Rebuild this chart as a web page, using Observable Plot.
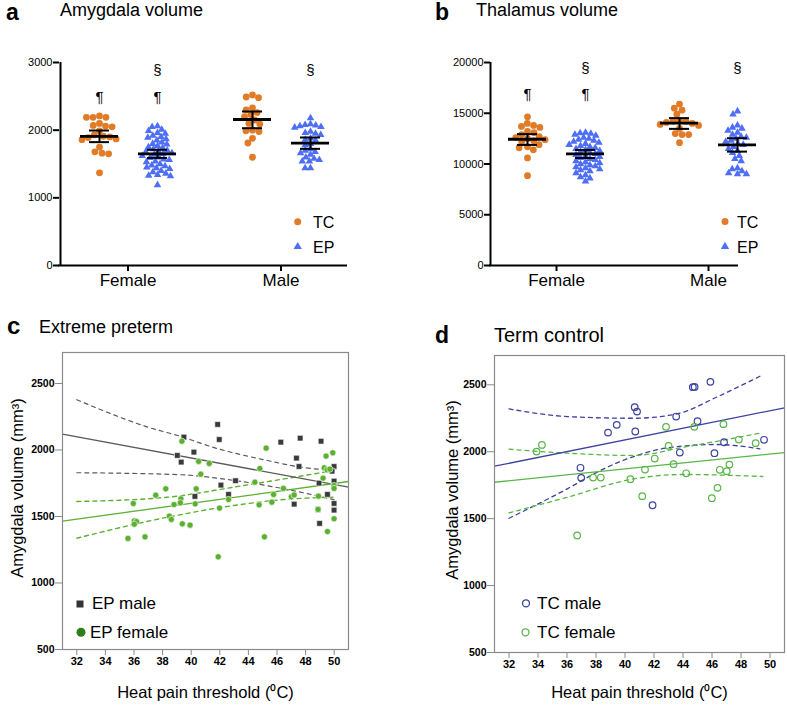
<!DOCTYPE html>
<html>
<head>
<meta charset="utf-8">
<script src="https://cdn.jsdelivr.net/npm/d3@7"></script>
<script src="https://cdn.jsdelivr.net/npm/@observablehq/plot@0.6"></script>
<style>
html,body{margin:0;padding:0;background:#fff;overflow:hidden;}
#root{position:relative;width:787px;height:705px;overflow:hidden;font-family:"Liberation Sans",Arial,sans-serif;}
#root .panel{position:absolute;}
#root svg{display:block;}
#overlay{position:absolute;left:0;top:0;pointer-events:none;}
</style>
</head>
<body>
<div id="root"></div>
<script>
// ================= DATA =================
const sexes = ["Female", "Male"];
const groups = ["TC", "EP"];

// Panel a: amygdala volume (mm3)
const amyFemaleTC = [2210, 2190, 2190, 2190, 2100, 2070, 2060, 2050, 1990, 1930, 1910, 1900, 1890, 1870, 1860, 1750, 1680, 1660, 1650, 1370];
const amyFemaleEP = [2060, 2050, 2010, 1990, 1960, 1950, 1920, 1900, 1890, 1870, 1850, 1820, 1800, 1790, 1770, 1750, 1740, 1720, 1700, 1690, 1680, 1660, 1650, 1640, 1620, 1600, 1590, 1570, 1560, 1540, 1530, 1500, 1480, 1470, 1450, 1440, 1430, 1400, 1380, 1360, 1340, 1330, 1320, 1190];
const amyMaleTC = [2520, 2490, 2480, 2330, 2300, 2260, 2230, 2200, 2150, 2100, 2090, 2000, 1990, 1980, 1880, 1810, 1600];
const amyMaleEP = [2180, 2090, 2080, 2070, 2060, 2050, 2040, 1980, 1960, 1950, 1930, 1880, 1860, 1850, 1800, 1780, 1720, 1700, 1680, 1660, 1640, 1600, 1580, 1560, 1540, 1540, 1440, 1440];
// mean and 95% CI, order: Female TC, Female EP, Male TC, Male EP
const amyMean = [1907, 1651, 2158, 1808];
const amyLo = [1823, 1590, 2029, 1724];
const amyHi = [1995, 1710, 2276, 1892];
const amyTicks = [0, 1000, 2000, 3000];

// Panel b: thalamus volume (mm3)
const thalFemaleTC = [14650, 14000, 13800, 13700, 13600, 13200, 13100, 12900, 12700, 12600, 12500, 12400, 12300, 12200, 11900, 11700, 11600, 11400, 10600, 8850];
const thalFemaleEP = [13100, 13050, 13000, 12900, 12800, 12600, 12500, 12400, 12300, 12200, 12100, 12000, 11900, 11800, 11700, 11600, 11500, 11400, 11300, 11200, 11100, 11000, 10900, 10800, 10700, 10600, 10500, 10400, 10300, 10200, 10100, 10000, 9900, 9800, 9700, 9600, 9500, 9400, 9300, 9100, 8900, 8700, 8600, 8300];
const thalMaleTC = [15900, 15500, 15300, 14900, 14300, 14200, 14200, 14100, 14000, 13900, 13800, 13500, 13000, 12900, 12900, 12100];
const thalMaleEP = [15200, 14900, 13800, 13600, 13500, 13300, 13100, 12900, 12700, 12600, 12500, 12300, 12200, 12000, 11900, 11700, 11500, 11300, 11100, 10800, 10500, 10300, 9600, 9500, 9300, 9100, 9000, 9000];
const thalMean = [12440, 10990, 14030, 11880];
const thalLo = [11880, 10590, 13460, 11220];
const thalHi = [12940, 11385, 14520, 12540];
const thalTicks = [0, 5000, 10000, 15000, 20000];

// significance symbols
const sigSex = ["Female", "Female", "Female", "Male"];
const sigGroup = ["TC", "EP", "EP", "EP"];
const sigSym = ["¶", "¶", "§", "§"];
const amySigY = [2490, 2490, 2880, 2880];
const thalSigY = [16830, 16830, 19470, 19470];

// Panel c: extreme preterm, heat pain threshold vs amygdala volume
const epMaleX = [41.85, 39.49, 41.96, 39.03, 40.19, 39.3, 46.27, 47.62, 49.08, 47.36, 47.54, 49.99, 49.85, 43.1, 42.08, 48.94, 49.99, 49.99, 49.53, 42.61, 40.26, 47.2, 49.99, 49.99, 48.87, 48.98];
const epMaleY = [2192, 2097, 2079, 1959, 1984, 1909, 2059, 2089, 2066, 1939, 1876, 1876, 1841, 1769, 1736, 1751, 1766, 1726, 1666, 1666, 1651, 1593, 1598, 1548, 1553, 1448];
const epFemaleX = [39.35, 45.24, 40.52, 41.26, 40.67, 44.8, 44.45, 46.45, 45.76, 45.64, 44.75, 47.0, 47.2, 48.9, 49.22, 49.43, 49.9, 49.3, 49.5, 49.7, 49.99, 49.99, 48.87, 49.99, 49.53, 45.12, 41.89, 38.22, 37.52, 40.35, 39.28, 39.24, 38.8, 40.28, 35.95, 41.98, 42.61, 38.47, 38.61, 36.02, 36.18, 36.02, 39.38, 39.92, 36.77, 35.58];
const epFemaleY = [2066, 2014, 1914, 1899, 1818, 1861, 1758, 1711, 1666, 1608, 1588, 1648, 1662, 1653, 1788, 1954, 1979, 1866, 1851, 1856, 1733, 1711, 1553, 1483, 1387, 1347, 1197, 1708, 1660, 1708, 1633, 1603, 1590, 1595, 1598, 1563, 1628, 1503, 1478, 1467, 1462, 1442, 1445, 1435, 1347, 1335];
const epMaleFitX = [31, 51], epMaleFitY = [2120, 1720];
const epMaleUpX = [32, 34.4, 36.96, 39.05, 41.85, 45.33, 47.66, 50], epMaleUpY = [2378, 2272, 2172, 2109, 2010, 1921, 1871, 1846];
const epMaleLoX = [32, 39.05, 43.0, 46.5, 50], epMaleLoY = [1829, 1815, 1771, 1708, 1626];
const epFemaleFitX = [31, 51], epFemaleFitY = [1465, 1763];
const epFemaleUpX = [32, 38.35, 43.0, 46.5, 50], epFemaleUpY = [1613, 1645, 1721, 1783, 1846];
const epFemaleLoX = [32, 38.35, 43.0, 46.5, 50], epFemaleLoY = [1337, 1495, 1583, 1628, 1645];

// Panel d: term control
const tcMaleX = [45.89, 44.68, 44.8, 40.67, 40.83, 43.53, 39.43, 38.83, 40.71, 45.0, 46.83, 49.59, 43.78, 46.17, 36.93, 36.98, 41.9];
const tcMaleY = [2522, 2482, 2484, 2333, 2300, 2263, 2201, 2143, 2151, 2228, 2071, 2089, 1994, 1989, 1880, 1805, 1600];
const tcFemaleX = [34.27, 33.9, 42.83, 44.78, 46.79, 43.01, 47.85, 49.01, 42.05, 43.35, 41.38, 37.8, 38.33, 40.37, 44.22, 46.54, 47.02, 47.2, 41.19, 46.38, 45.99, 36.7];
const tcFemaleY = [2051, 2001, 2186, 2186, 2206, 2044, 2091, 2064, 1949, 1907, 1867, 1807, 1807, 1795, 1839, 1865, 1855, 1904, 1668, 1730, 1653, 1374];
const tcMaleFitX = [31, 51], tcMaleFitY = [1892, 2328];
const tcMaleUpX = [32, 36.02, 40.6, 43.6, 46.3, 49.4], tcMaleUpY = [2320, 2263, 2250, 2283, 2407, 2569];
const tcMaleLoX = [32, 36.02, 38.3, 40.6, 42.9, 46.3, 49.3], tcMaleLoY = [1503, 1723, 1860, 1964, 2029, 2054, 2022];
const tcFemaleFitX = [31, 51], tcFemaleFitY = [1772, 1994];
const tcFemaleUpX = [32, 36.02, 40.6, 44.05, 49.3], tcFemaleUpY = [2019, 1989, 1972, 2034, 2138];
const tcFemaleLoX = [32, 36.02, 40.6, 44.05, 49.5], tcFemaleLoY = [1543, 1660, 1797, 1830, 1815];

const heatTicks = [32, 34, 36, 38, 40, 42, 44, 46, 48, 50];
const heatDomain = [31, 51];
const volTicks = [500, 1000, 1500, 2000, 2500];

// ================= STYLE =================
const FONT = "'Liberation Sans', Arial, Helvetica, sans-serif";
const ORANGE = "#e07b28", BLUE = "#4d6ef5";
const EP_GRAY = "#3a3a3a", EP_LINE = "#5a5a5a", EP_GREEN = "#5bb031", EP_GREEN_DARK = "#2f7d1d";
const TC_BLUE = "#3d42a0", TC_GREEN = "#5ab548";
const FRAME_GRAY = "#8a8a8a";

// ================= HELPERS =================
const root = document.getElementById("root");
function put(el, left, top) {
  const d = document.createElement("div");
  d.className = "panel";
  d.style.left = left + "px";
  d.style.top = top + "px";
  d.appendChild(el);
  root.appendChild(d);
}
const summaryKeys = [["Female", "TC"], ["Female", "EP"], ["Male", "TC"], ["Male", "EP"]];
function rowsFrom(sets) {
  return sets.flatMap(([sex, group, vals]) => vals.map(v => ({sex, group, v})));
}
function summary(mean, lo, hi) {
  return summaryKeys.map(([sex, group], i) => ({sex, group, mean: mean[i], lo: lo[i], hi: hi[i]}));
}
function sigs(ys) {
  return sigSym.map((s, i) => ({sex: sigSex[i], group: sigGroup[i], sym: s, v: ys[i]}));
}
const pts = (xs, ys) => xs.map((x, i) => ({x, y: ys[i]}));

// Beeswarm layout as a Plot initializer: points of each (facet, group) are
// spread horizontally around the centre of their x band so they do not collide.
function swarm(diam, options) {
  return {
    ...options,
    initializer: (data, facets, channels, scales) => {
      const X = channels.x.value, Y = channels.y.value;
      const n = X.length;
      const PX = new Float64Array(n), PY = new Float64Array(n), OFF = new Float64Array(n);
      for (let i = 0; i < n; i++) { PX[i] = scales.x(X[i]); PY[i] = scales.y(Y[i]); }
      for (const facet of facets) {
        for (const idx of d3.group(facet, i => X[i]).values()) {
          const order = Array.from(idx).sort((a, b) => PY[a] - PY[b]);
          const placed = [];
          for (const i of order) {
            const near = placed.filter(j => Math.abs(PY[i] - PY[j]) < diam);
            const cands = [0];
            for (const j of near) {
              const w = Math.sqrt(diam * diam - (PY[i] - PY[j]) ** 2);
              cands.push(OFF[j] - w, OFF[j] + w);
            }
            cands.sort((a, b) => Math.abs(a) - Math.abs(b));
            let best = cands[0];
            for (const c of cands) {
              if (near.every(j => Math.abs(c - OFF[j]) >= Math.sqrt(diam * diam - (PY[i] - PY[j]) ** 2) - 1e-6)) { best = c; break; }
            }
            OFF[i] = best;
            placed.push(i);
          }
        }
      }
      const OX = Array.from(PX, (x, i) => x + OFF[i]);
      return {data, facets, channels: {x: {value: OX}, y: {value: Array.from(PY)}}};
    }
  };
}

function swarmPanel({rows, sum, sig, yDomain, yTicks, width, marginLeft, marginRight, fxRange}) {
  const tc = rows.filter(d => d.group === "TC");
  const ep = rows.filter(d => d.group === "EP");
  const bandCentre = 47; // centre of TC band inside a facet (px)
  const yTop = yDomain[1];
  return Plot.plot({
    width, height: 300,
    marginLeft, marginRight, marginTop: 62, marginBottom: 35,
    style: {fontFamily: FONT, background: "transparent", color: "#000", overflow: "visible"},
    fx: {domain: sexes, range: fxRange, padding: 0},
    x: {domain: groups, paddingInner: 0, paddingOuter: 0.31, axis: null},
    y: {domain: yDomain},
    marks: [
      // axis lines
      Plot.ruleY([{sex: "Female", v: 0}], {fx: "sex", y: "v", stroke: "#000", strokeWidth: 2, insetLeft: marginLeft - fxRange[0] - 1}),
      Plot.ruleY([{sex: "Male", v: 0}], {fx: "sex", y: "v", stroke: "#000", strokeWidth: 2, insetRight: fxRange[1] - (width - marginRight)}),
      Plot.ruleX([{sex: "Female", g: "TC", v1: 0, v2: yTop}], {fx: "sex", x: "g", y1: "v1", y2: "v2", stroke: "#000", strokeWidth: 2, dx: marginLeft - fxRange[0] - bandCentre}),
      Plot.axisY({ticks: yTicks, tickFormat: "d", tickSize: 6, tickPadding: 1, stroke: "#000", fill: "#000", strokeWidth: 2, fontSize: 11, label: null, dx: marginLeft - fxRange[0]}),
      Plot.axisFx({anchor: "bottom", tickSize: 6, tickPadding: 2, stroke: "#000", fill: "#000", strokeWidth: 2, fontSize: 17, label: null}),
      Plot.dot(tc, swarm(6.6, {fx: "sex", x: "group", y: "v", r: 3.4, fill: ORANGE})),
      Plot.dot(ep, swarm(5.4, {fx: "sex", x: "group", y: "v", r: 2.8, symbol: "triangle", fill: BLUE})),
      Plot.ruleX(sum, {fx: "sex", x: "group", y1: "lo", y2: "hi", stroke: "#000", strokeWidth: 2}),
      Plot.tickY(sum, {fx: "sex", x: "group", y: "lo", stroke: "#000", strokeWidth: 2, insetLeft: 19, insetRight: 19}),
      Plot.tickY(sum, {fx: "sex", x: "group", y: "hi", stroke: "#000", strokeWidth: 2, insetLeft: 19, insetRight: 19}),
      Plot.tickY(sum, {fx: "sex", x: "group", y: "mean", stroke: "#000", strokeWidth: 2.8, insetLeft: 10, insetRight: 10}),
      Plot.text(sig, {fx: "sex", x: "group", y: "v", text: "sym", fontSize: 15, fill: "#000"})
    ]
  });
}

function scatterPanel({width, marginLeft, marginRight, marginTop, marginBottom, yDomain, yLabelDx, yLabelDy, xLabelDy, marks}) {
  return Plot.plot({
    width, height: 405,
    marginLeft, marginRight, marginTop, marginBottom,
    style: {fontFamily: FONT, background: "transparent", color: "#000", overflow: "visible"},
    x: {domain: heatDomain},
    y: {domain: yDomain},
    marks: [
      Plot.axisX({ticks: heatTicks, tickFormat: "d", tickSize: 6, tickPadding: 2, fontSize: 11, fontWeight: "bold", stroke: FRAME_GRAY, fill: "#000", label: null}),
      Plot.axisY({ticks: volTicks, tickFormat: "d", tickSize: 7, tickPadding: 1, fontSize: 10.5, fontWeight: "bold", stroke: FRAME_GRAY, fill: "#000", label: null}),
      ...marks,
      Plot.frame({stroke: FRAME_GRAY, strokeWidth: 1.2}),
      Plot.text(["Heat pain threshold (⁰C)"], {frameAnchor: "bottom", textAnchor: "middle", lineAnchor: "middle", dy: xLabelDy, fontSize: 16.5, fill: "#000"}),
      Plot.text(["Amygdala volume (mm³)"], {frameAnchor: "left", textAnchor: "middle", lineAnchor: "middle", rotate: -90, dx: yLabelDx, dy: yLabelDy, fontSize: 16.5, fill: "#000"})
    ]
  });
}

// ================= PANELS =================
const amyRows = rowsFrom([["Female", "TC", amyFemaleTC], ["Female", "EP", amyFemaleEP], ["Male", "TC", amyMaleTC], ["Male", "EP", amyMaleEP]]);
const thalRows = rowsFrom([["Female", "TC", thalFemaleTC], ["Female", "EP", thalFemaleEP], ["Male", "TC", thalMaleTC], ["Male", "EP", thalMaleEP]]);

put(swarmPanel({rows: amyRows, sum: summary(amyMean, amyLo, amyHi), sig: sigs(amySigY),
  yDomain: [0, 3000], yTicks: amyTicks, width: 390, marginLeft: 59, marginRight: 43, fxRange: [51, 357]}), 0, 0);

put(swarmPanel({rows: thalRows, sum: summary(thalMean, thalLo, thalHi), sig: sigs(thalSigY),
  yDomain: [0, 20000], yTicks: thalTicks, width: 397, marginLeft: 100, marginRight: 49, fxRange: [90, 394]}), 390, 0);

const dashed = {strokeDasharray: "4,4", curve: "monotone-x"};
put(scatterPanel({width: 390, marginLeft: 62, marginRight: 42, marginTop: 52, marginBottom: 56,
  yDomain: [500, 2733], yLabelDx: -45, yLabelDy: -13, xLabelDy: 43,
  marks: [
    Plot.line(pts(epMaleUpX, epMaleUpY), {x: "x", y: "y", stroke: EP_LINE, strokeWidth: 1.2, ...dashed}),
    Plot.line(pts(epMaleLoX, epMaleLoY), {x: "x", y: "y", stroke: EP_LINE, strokeWidth: 1.2, ...dashed}),
    Plot.line(pts(epFemaleUpX, epFemaleUpY), {x: "x", y: "y", stroke: EP_GREEN, strokeWidth: 1.4, ...dashed}),
    Plot.line(pts(epFemaleLoX, epFemaleLoY), {x: "x", y: "y", stroke: EP_GREEN, strokeWidth: 1.4, ...dashed}),
    Plot.line(pts(epMaleFitX, epMaleFitY), {x: "x", y: "y", stroke: EP_LINE, strokeWidth: 1.3}),
    Plot.line(pts(epFemaleFitX, epFemaleFitY), {x: "x", y: "y", stroke: EP_GREEN, strokeWidth: 1.3}),
    Plot.dot(pts(epMaleX, epMaleY), {x: "x", y: "y", symbol: "square", r: 3.2, fill: EP_GRAY, stroke: "#fff", strokeWidth: 0.6}),
    Plot.dot(pts(epFemaleX, epFemaleY), {x: "x", y: "y", r: 3.1, fill: EP_GREEN, stroke: "#fff", strokeWidth: 0.6})
  ]}), 0, 300);

put(scatterPanel({width: 397, marginLeft: 104, marginRight: 3, marginTop: 55, marginBottom: 53,
  yDomain: [500, 2719], yLabelDx: -42, yLabelDy: -14, xLabelDy: 40,
  marks: [
    Plot.line(pts(tcMaleUpX, tcMaleUpY), {x: "x", y: "y", stroke: TC_BLUE, strokeWidth: 1.3, ...dashed}),
    Plot.line(pts(tcMaleLoX, tcMaleLoY), {x: "x", y: "y", stroke: TC_BLUE, strokeWidth: 1.3, ...dashed}),
    Plot.line(pts(tcFemaleUpX, tcFemaleUpY), {x: "x", y: "y", stroke: TC_GREEN, strokeWidth: 1.3, ...dashed}),
    Plot.line(pts(tcFemaleLoX, tcFemaleLoY), {x: "x", y: "y", stroke: TC_GREEN, strokeWidth: 1.3, ...dashed}),
    Plot.line(pts(tcMaleFitX, tcMaleFitY), {x: "x", y: "y", stroke: TC_BLUE, strokeWidth: 1.3}),
    Plot.line(pts(tcFemaleFitX, tcFemaleFitY), {x: "x", y: "y", stroke: TC_GREEN, strokeWidth: 1.3}),
    Plot.dot(pts(tcMaleX, tcMaleY), {x: "x", y: "y", r: 3.3, stroke: TC_BLUE, strokeWidth: 1.2, fill: "none"}),
    Plot.dot(pts(tcFemaleX, tcFemaleY), {x: "x", y: "y", r: 3.3, stroke: TC_GREEN, strokeWidth: 1.2, fill: "none"})
  ]}), 390, 300);

// ================= OVERLAY: titles and legends =================
const svg = d3.select(root).append("svg").attr("id", "overlay")
  .attr("width", 787).attr("height", 705)
  .style("font-family", FONT);
function label(t, x, y, size, weight = "normal") {
  svg.append("text").attr("x", x).attr("y", y).attr("font-size", size)
    .attr("font-weight", weight).attr("fill", "#000").text(t);
}
label("a", 6, 20, 23, "bold");
label("Amygdala volume", 60, 16, 18);
label("b", 435, 20, 23, "bold");
label("Thalamus volume", 476, 16, 18);
label("c", 7, 334, 24, "bold");
label("Extreme preterm", 39, 333, 18);
label("d", 435, 342.5, 23, "bold");
label("Term control", 494, 342, 20);

const tri = d3.symbol(d3.symbolTriangle, 30)();
// legend a
svg.append("circle").attr("cx", 297.7).attr("cy", 221.7).attr("r", 3.5).attr("fill", ORANGE);
label("TC", 313, 227.5, 16);
svg.append("path").attr("d", tri).attr("transform", "translate(297.7,246.7)").attr("fill", BLUE);
label("EP", 313, 252.5, 16);
// legend b
svg.append("circle").attr("cx", 725).attr("cy", 221.5).attr("r", 3.5).attr("fill", ORANGE);
label("TC", 737, 227.5, 16);
svg.append("path").attr("d", tri).attr("transform", "translate(725,246.5)").attr("fill", BLUE);
label("EP", 737, 252.5, 16);
// legend c
svg.append("rect").attr("x", 76.5).attr("y", 600.5).attr("width", 7).attr("height", 7).attr("fill", "#333");
label("EP male", 92, 608.5, 17);
svg.append("circle").attr("cx", 81).attr("cy", 632.3).attr("r", 4.5).attr("fill", EP_GREEN_DARK);
label("EP female", 90, 637.5, 17);
// legend d
svg.append("circle").attr("cx", 526).attr("cy", 603.3).attr("r", 3.5).attr("fill", "none").attr("stroke", TC_BLUE).attr("stroke-width", 1.3);
label("TC male", 537, 608.5, 17);
svg.append("circle").attr("cx", 525.5).attr("cy", 632.3).attr("r", 3.5).attr("fill", "none").attr("stroke", TC_GREEN).attr("stroke-width", 1.3);
label("TC female", 537, 637.5, 17);
</script>
</body>
</html>
